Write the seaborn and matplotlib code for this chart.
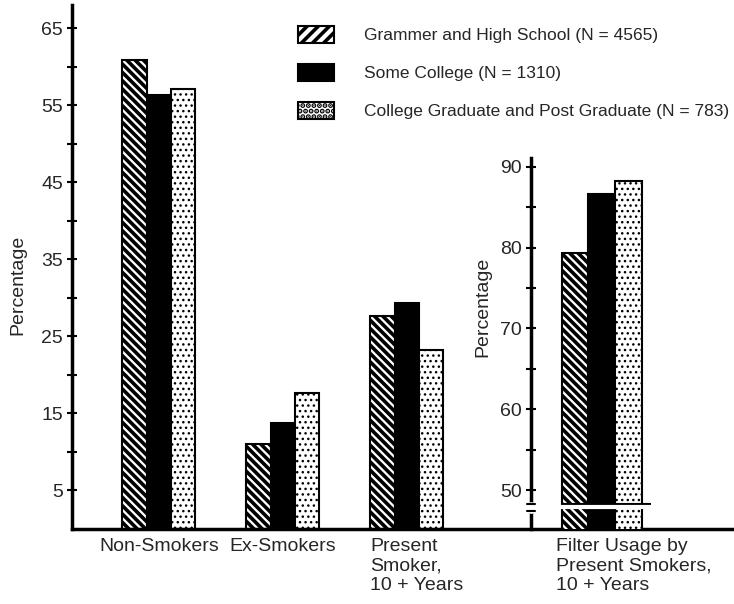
"""
Smoking status and filter usage by education level
"""

import numpy as np
import pandas as pd
import matplotlib
matplotlib.use('Agg')
import matplotlib.pyplot as plt
import matplotlib.patches as mpatches
import matplotlib.transforms as mtransforms
import seaborn as sns

# Data
categories = ['Non-Smokers', 'Ex-Smokers', 'Present\nSmoker,\n10 + Years']
education = [
    'Grammer and High School (N = 4565)',
    'Some College (N = 1310)',
    'College Graduate and Post Graduate (N = 783)',
]
grammer_hs = [60.8, 11.0, 27.6]
some_college = [56.3, 13.7, 29.3]
college_grad = [57.1, 17.6, 23.2]

filter_label = 'Filter Usage by\nPresent Smokers,\n10 + Years'
filter_usage = [79.3, 86.6, 88.2]

main_ticks = [5, 15, 25, 35, 45, 55, 65]
main_minor = [10, 20, 30, 40, 50, 60]
inset_ticks = [50, 60, 70, 80, 90]
inset_minor = [55, 65, 75, 85]

fills = ['white', 'black', 'white']
bar_hatches = ['\\\\\\\\', '', '...']
legend_hatches = ['///', '', '...']
hatch_lws = [2.6, 1.0, 1.0]

# Style
sns.set_style('white')
plt.rcParams['font.family'] = ['Liberation Sans', 'DejaVu Sans']
plt.rcParams['hatch.linewidth'] = 2.6
plt.rcParams['hatch.color'] = 'black'

W, H = 734, 604
fig = plt.figure(figsize=(W / 100, H / 100), dpi=100)
ax = fig.add_axes([72 / W, 75.5 / H, 662 / W, 523.5 / H])
ax2 = fig.add_axes([531 / W, 75.5 / H, 203 / W, 370.5 / H])

main_df = pd.DataFrame({
    'smoking': categories * 3,
    'education': np.repeat(education, len(categories)),
    'percentage': grammer_hs + some_college + college_grad,
})
filter_df = pd.DataFrame({
    'usage': [filter_label] * 3,
    'education': education,
    'percentage': filter_usage,
})

main_width = 0.59
inset_width = 0.6

sns.barplot(data=main_df, x='smoking', y='percentage', hue='education',
            order=categories, hue_order=education, palette=fills,
            edgecolor='black', linewidth=1.5, width=main_width,
            saturation=1, legend=False, ax=ax)
sns.barplot(data=filter_df, x='usage', y='percentage', hue='education',
            hue_order=education, palette=fills,
            edgecolor='black', linewidth=1.5, width=inset_width,
            saturation=1, legend=False, ax=ax2)


def style_patch(p, hatch, hlw):
    p.set_hatch(hatch)
    if hasattr(p, 'set_hatch_linewidth'):
        p.set_hatch_linewidth(hlw)


for a in (ax, ax2):
    for cont, h, hlw in zip(a.containers, bar_hatches, hatch_lws):
        for bar in cont:
            style_patch(bar, h, hlw)

# Main axes
main_xlim = (-0.70, 4.64)
ax.set_xlim(*main_xlim)
ax.set_ylim(0, 68)
ax.set_yticks(main_ticks)
ax.set_yticks(main_minor, minor=True)
ax.tick_params(axis='y', which='both', direction='inout', length=7, width=1.5,
               color='black', labelsize=14, pad=3, left=True)
ax.tick_params(axis='x', length=0, labelsize=14, pad=7)
for side in ('top', 'right'):
    ax.spines[side].set_visible(False)
for side in ('left', 'bottom'):
    ax.spines[side].set_linewidth(2.5)
    ax.spines[side].set_color('black')
ax.set_xlabel('')
ax.set_ylabel('Percentage', fontsize=14)
ax.yaxis.set_label_coords(-0.0695, 0.465)

# shift multi-line label so it starts at the group's left edge
px_per_unit = 662 / (main_xlim[1] - main_xlim[0])
half_group = main_width * px_per_unit / 2
for lab in ax.get_xticklabels():
    if '\n' in lab.get_text():
        lab.set_ha('left')
        lab.set_multialignment('left')
        lab.set_transform(lab.get_transform() + mtransforms.ScaledTranslation(
            -half_group / 100, 0, fig.dpi_scale_trans))

# Inset axes
inset_xlim = (-0.53, 0.99)
ax2.set_xlim(*inset_xlim)
ax2.set_ylim(45.24, 91.1)
ax2.patch.set_alpha(0)
ax2.set_yticks(inset_ticks)
ax2.set_yticks(inset_minor, minor=True)
ax2.tick_params(axis='y', which='both', direction='inout', length=7, width=1.5,
                color='black', labelsize=14, pad=3, left=True)
ax2.tick_params(axis='x', length=0, labelsize=14, pad=7)
for side in ('top', 'right', 'bottom'):
    ax2.spines[side].set_visible(False)
ax2.spines['left'].set_linewidth(2.5)
ax2.spines['left'].set_color('black')
ax2.set_xlabel('')
ax2.set_ylabel('Percentage', fontsize=14)
ax2.yaxis.set_label_coords(-0.197, 0.598)

px_per_unit2 = 203 / (inset_xlim[1] - inset_xlim[0])
half_group2 = inset_width * px_per_unit2 / 2
for lab in ax2.get_xticklabels():
    lab.set_ha('left')
    lab.set_multialignment('left')
    lab.set_transform(lab.get_transform() + mtransforms.ScaledTranslation(
        -(half_group2 + 6) / 100, 0, fig.dpi_scale_trans))

# axis break on the inset
break_at = 47.85
bars = [b for cont in ax2.containers for b in cont]
left = min(b.get_x() for b in bars)
right = max(b.get_x() + b.get_width() for b in bars)
ax2.hlines(break_at + 0.45, left, right + 0.07, color='black', lw=1.5, zorder=6)
ax2.hlines(break_at, left - 0.02, right + 0.07, color='white', lw=3, zorder=6)
yt = ax2.get_yaxis_transform()
ax2.plot([0, 0], [break_at - 0.3, break_at + 0.3], color='white', lw=5,
         transform=yt, clip_on=False, zorder=7)
for y in (break_at - 0.45, break_at + 0.45):
    ax2.plot([-0.02, 0.02], [y, y], color='black', lw=1.5,
             transform=yt, clip_on=False, zorder=8)

# Legend
handles = []
for f, h, hlw in zip(fills, legend_hatches, hatch_lws):
    p = mpatches.Patch(facecolor=f, edgecolor='black', linewidth=1.5)
    style_patch(p, h, hlw)
    handles.append(p)
fig.legend(handles, education, loc='upper left',
           bbox_to_anchor=(298 / W, 1 - 26 / H), frameon=False, fontsize=12.5,
           handlelength=2.1, handleheight=1.1, handletextpad=1.7,
           labelspacing=1.2, borderpad=0, borderaxespad=0)

fig.savefig('out.png', dpi=100)
